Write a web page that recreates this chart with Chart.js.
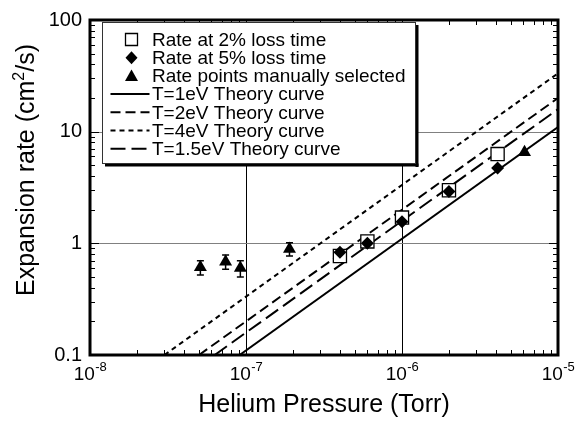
<!DOCTYPE html>
<html>
<head>
<meta charset="utf-8">
<script src="https://cdn.jsdelivr.net/npm/chart.js@4/dist/chart.umd.min.js"></script>
<style>
  html, body { margin: 0; padding: 0; background: #fff; }
  #wrap { width: 581px; height: 425px; }
</style>
</head>
<body>
<div id="wrap"><canvas id="chart" width="581" height="425"></canvas></div>
<script>
// measured points (Torr, cm^2/s)
const lossPressures = [4.0e-7, 6.0e-7, 1.0e-6, 2.0e-6, 4.1e-6];
const rate2pct = [0.77, 1.04, 1.70, 2.99, 6.3];
const rate5pct = [0.83, 1.0, 1.56, 2.91, 4.72];
const manualPressures = [5.1e-8, 7.4e-8, 9.2e-8, 1.9e-7, 6.1e-6];
const manualRates = [0.61, 0.685, 0.6, 0.89, 6.55];
const manualErrors = [0.09, 0.10, 0.10, 0.12, 0];

// theory curves, straight on log-log, endpoints
const theory1eV_P = [9.1e-8, 1e-5];
const theory1eV_R = [0.1, 11.0];
const theory2eV_P = [5.0e-8, 1e-5];
const theory2eV_R = [0.1, 20.0];
const theory4eV_P = [3.0e-8, 1e-5];
const theory4eV_R = [0.1, 33.3];
const theory15eV_P = [6.3e-8, 1e-5];
const theory15eV_R = [0.1, 15.9];

// axis labels
const xTickValues = [1e-8, 1e-7, 1e-6, 1e-5];
const xTickExponents = ['-8', '-7', '-6', '-5'];
const yTickValues = [0.1, 1, 10, 100];
const yTickLabels = ['0.1', '1', '10', '100'];

const FONT = '"Liberation Sans", Arial, Helvetica, sans-serif';

const toPoints = (xs, ys) => xs.map((x, i) => ({ x: x, y: ys[i] }));

const legendItems = [
  { text: 'Rate at 2% loss time', kind: 'square' },
  { text: 'Rate at 5% loss time', kind: 'diamond' },
  { text: 'Rate points manually selected', kind: 'triangle' },
  { text: 'T=1eV Theory curve', dash: [] },
  { text: 'T=2eV Theory curve', dash: [10, 5] },
  { text: 'T=4eV Theory curve', dash: [5, 4] },
  { text: 'T=1.5eV Theory curve', dash: [15, 6] },
];

function drawMarker(ctx, kind, x, y) {
  ctx.beginPath();
  if (kind === 'square') {
    ctx.rect(x - 6, y - 6, 12, 12);
    ctx.fillStyle = '#fff';
    ctx.fill();
    ctx.lineWidth = 1.3;
    ctx.strokeStyle = '#000';
    ctx.stroke();
    return;
  }
  if (kind === 'diamond') {
    ctx.moveTo(x, y - 6.5);
    ctx.lineTo(x + 6, y);
    ctx.lineTo(x, y + 6.5);
    ctx.lineTo(x - 6, y);
  } else {
    ctx.moveTo(x, y - 6.5);
    ctx.lineTo(x + 6.5, y + 5);
    ctx.lineTo(x - 6.5, y + 5);
  }
  ctx.closePath();
  ctx.fillStyle = '#000';
  ctx.fill();
}

const decorations = {
  id: 'decorations',
  beforeDatasetsDraw(chart) {
    const { ctx, chartArea: a, scales: { x, y } } = chart;
    ctx.save();
    ctx.lineWidth = 1;
    ctx.strokeStyle = '#000';
    [1e-7, 1e-6].forEach((v) => {
      const px = Math.round(x.getPixelForValue(v)) + 0.5;
      ctx.beginPath(); ctx.moveTo(px, a.top); ctx.lineTo(px, a.bottom); ctx.stroke();
    });
    ctx.strokeStyle = '#808080';
    [1, 10].forEach((v) => {
      const py = Math.round(y.getPixelForValue(v)) + 0.5;
      ctx.beginPath(); ctx.moveTo(a.left, py); ctx.lineTo(a.right, py); ctx.stroke();
    });
    ctx.restore();
  },
  afterDatasetsDraw(chart) {
    const { ctx, chartArea: a, scales: { x, y } } = chart;
    ctx.save();

    // error bars on manual points
    ctx.strokeStyle = '#000';
    ctx.lineWidth = 1.5;
    manualPressures.forEach((p, i) => {
      const e = manualErrors[i];
      if (!e) return;
      const px = x.getPixelForValue(p);
      const top = y.getPixelForValue(manualRates[i] + e);
      const bot = y.getPixelForValue(manualRates[i] - e);
      ctx.beginPath();
      ctx.moveTo(px, top); ctx.lineTo(px, bot);
      ctx.moveTo(px - 3.5, top); ctx.lineTo(px + 3.5, top);
      ctx.moveTo(px - 3.5, bot); ctx.lineTo(px + 3.5, bot);
      ctx.stroke();
    });

    // tick marks on all four sides, pointing in
    ctx.lineWidth = 1;
    for (let e = -8; e < -5; e++) {
      for (let m = 1; m < 10; m++) {
        const v = m * Math.pow(10, e);
        const px = Math.round(x.getPixelForValue(v)) + 0.5;
        const len = m === 1 ? 9 : 5;
        ctx.beginPath();
        ctx.moveTo(px, a.bottom); ctx.lineTo(px, a.bottom - len);
        ctx.moveTo(px, a.top); ctx.lineTo(px, a.top + len);
        ctx.stroke();
      }
    }
    for (let e = -1; e < 2; e++) {
      for (let m = 1; m < 10; m++) {
        const v = m * Math.pow(10, e);
        const py = Math.round(y.getPixelForValue(v)) + 0.5;
        const len = m === 1 ? 9 : 5;
        ctx.beginPath();
        ctx.moveTo(a.left, py); ctx.lineTo(a.left + len, py);
        ctx.moveTo(a.right, py); ctx.lineTo(a.right - len, py);
        ctx.stroke();
      }
    }

    // frame
    ctx.lineWidth = 3;
    ctx.strokeRect(a.left, a.top, a.right - a.left, a.bottom - a.top);

    // x tick labels with exponents
    ctx.fillStyle = '#000';
    ctx.textAlign = 'left';
    ctx.textBaseline = 'alphabetic';
    xTickValues.forEach((v, i) => {
      const px = x.getPixelForValue(v);
      ctx.font = '19px ' + FONT;
      const w1 = ctx.measureText('10').width;
      ctx.font = '13px ' + FONT;
      const w2 = ctx.measureText(xTickExponents[i]).width;
      const start = px - (w1 + w2) / 2;
      ctx.font = '19px ' + FONT;
      ctx.fillText('10', start, 380);
      ctx.font = '13px ' + FONT;
      ctx.fillText(xTickExponents[i], start + w1 + 0.5, 371);
    });

    // y axis title with superscript 2
    ctx.save();
    ctx.translate(27, 170);
    ctx.rotate(-Math.PI / 2);
    ctx.textBaseline = 'middle';
    const t1 = 'Expansion rate (cm', t2 = '2', t3 = '/s)';
    ctx.font = '25px ' + FONT;
    const w1 = ctx.measureText(t1).width, w3 = ctx.measureText(t3).width;
    ctx.font = '16px ' + FONT;
    const w2 = ctx.measureText(t2).width;
    let sx = -(w1 + w2 + w3) / 2;
    ctx.font = '25px ' + FONT;
    ctx.fillText(t1, sx, 0);
    ctx.font = '16px ' + FONT;
    ctx.fillText(t2, sx + w1, -7);
    ctx.font = '25px ' + FONT;
    ctx.fillText(t3, sx + w1 + w2, 0);
    ctx.restore();

    // legend box with drop shadow
    const bx = 102.5, by = 22.5, bw = 313, bh = 141;
    ctx.fillStyle = '#000';
    ctx.fillRect(bx + bw, by + 2.5, 3, bh + 1);
    ctx.fillRect(bx + 2.5, by + bh, bw + 0.5, 3);
    ctx.fillStyle = '#fff';
    ctx.fillRect(bx, by, bw, bh);
    ctx.lineWidth = 1;
    ctx.strokeStyle = '#333';
    ctx.strokeRect(bx, by, bw, bh);

    ctx.font = '19px ' + FONT;
    ctx.textBaseline = 'middle';
    legendItems.forEach((item, i) => {
      const ry = 39.5 + i * 18.2;
      if (item.kind) {
        drawMarker(ctx, item.kind, 131.5, ry);
      } else {
        ctx.save();
        ctx.strokeStyle = '#000';
        ctx.lineWidth = 2;
        ctx.setLineDash(item.dash);
        ctx.beginPath(); ctx.moveTo(110.5, ry); ctx.lineTo(149.5, ry); ctx.stroke();
        ctx.restore();
      }
      ctx.fillStyle = '#000';
      ctx.fillText(item.text, 152, ry + 1);
    });

    ctx.restore();
  },
};

const lineStyle = (dash) => ({
  showLine: true, borderColor: '#000', borderWidth: 2, borderDash: dash,
  pointRadius: 0, fill: false,
});

new Chart(document.getElementById('chart'), {
  type: 'scatter',
  data: {
    datasets: [
      {
        label: 'Rate points manually selected',
        data: toPoints(manualPressures, manualRates),
        pointStyle: 'triangle', pointRadius: 7.5,
        backgroundColor: '#000', borderColor: '#000', borderWidth: 0,
        order: 0,
      },
      {
        label: 'Rate at 5% loss time',
        data: toPoints(lossPressures, rate5pct),
        pointStyle: 'rectRot', pointRadius: 6.5,
        backgroundColor: '#000', borderColor: '#000', borderWidth: 0,
        order: 1,
      },
      {
        label: 'Rate at 2% loss time',
        data: toPoints(lossPressures, rate2pct),
        pointStyle: 'rect', pointRadius: 9.3,
        backgroundColor: '#fff', borderColor: '#000', borderWidth: 1.3,
        order: 2,
      },
      { label: 'T=1eV Theory curve', data: toPoints(theory1eV_P, theory1eV_R), ...lineStyle([]), order: 3 },
      { label: 'T=2eV Theory curve', data: toPoints(theory2eV_P, theory2eV_R), ...lineStyle([10, 5]), order: 4 },
      { label: 'T=4eV Theory curve', data: toPoints(theory4eV_P, theory4eV_R), ...lineStyle([5, 4]), order: 5 },
      { label: 'T=1.5eV Theory curve', data: toPoints(theory15eV_P, theory15eV_R), ...lineStyle([15, 6]), order: 6 },
    ],
  },
  options: {
    responsive: false,
    animation: false,
    devicePixelRatio: 1,
    layout: { padding: { top: 17.5, right: 23, left: 0, bottom: 0 } },
    plugins: {
      legend: { display: false },
      tooltip: { enabled: false },
    },
    scales: {
      x: {
        type: 'logarithmic',
        min: 1e-8,
        max: 1e-5,
        grid: { display: false, drawTicks: false },
        border: { display: false },
        ticks: { display: false },
        title: {
          display: true,
          text: 'Helium Pressure (Torr)',
          color: '#000',
          font: { family: FONT, size: 25 },
          padding: { top: 0, bottom: 5 },
        },
        afterFit: (s) => { s.height = 70; },
      },
      y: {
        type: 'logarithmic',
        min: 0.1,
        max: 100,
        grid: { display: false, drawTicks: false },
        border: { display: false },
        ticks: {
          color: '#000',
          font: { family: FONT, size: 20 },
          padding: 8,
          autoSkip: false,
          callback: (v) => {
            const i = yTickValues.findIndex((t) => Math.abs(Math.log10(v) - Math.log10(t)) < 1e-6);
            return i >= 0 ? yTickLabels[i] : '';
          },
        },
        title: { display: false },
        afterFit: (s) => { s.width = 90; },
      },
    },
  },
  plugins: [decorations],
});
</script>
</body>
</html>
